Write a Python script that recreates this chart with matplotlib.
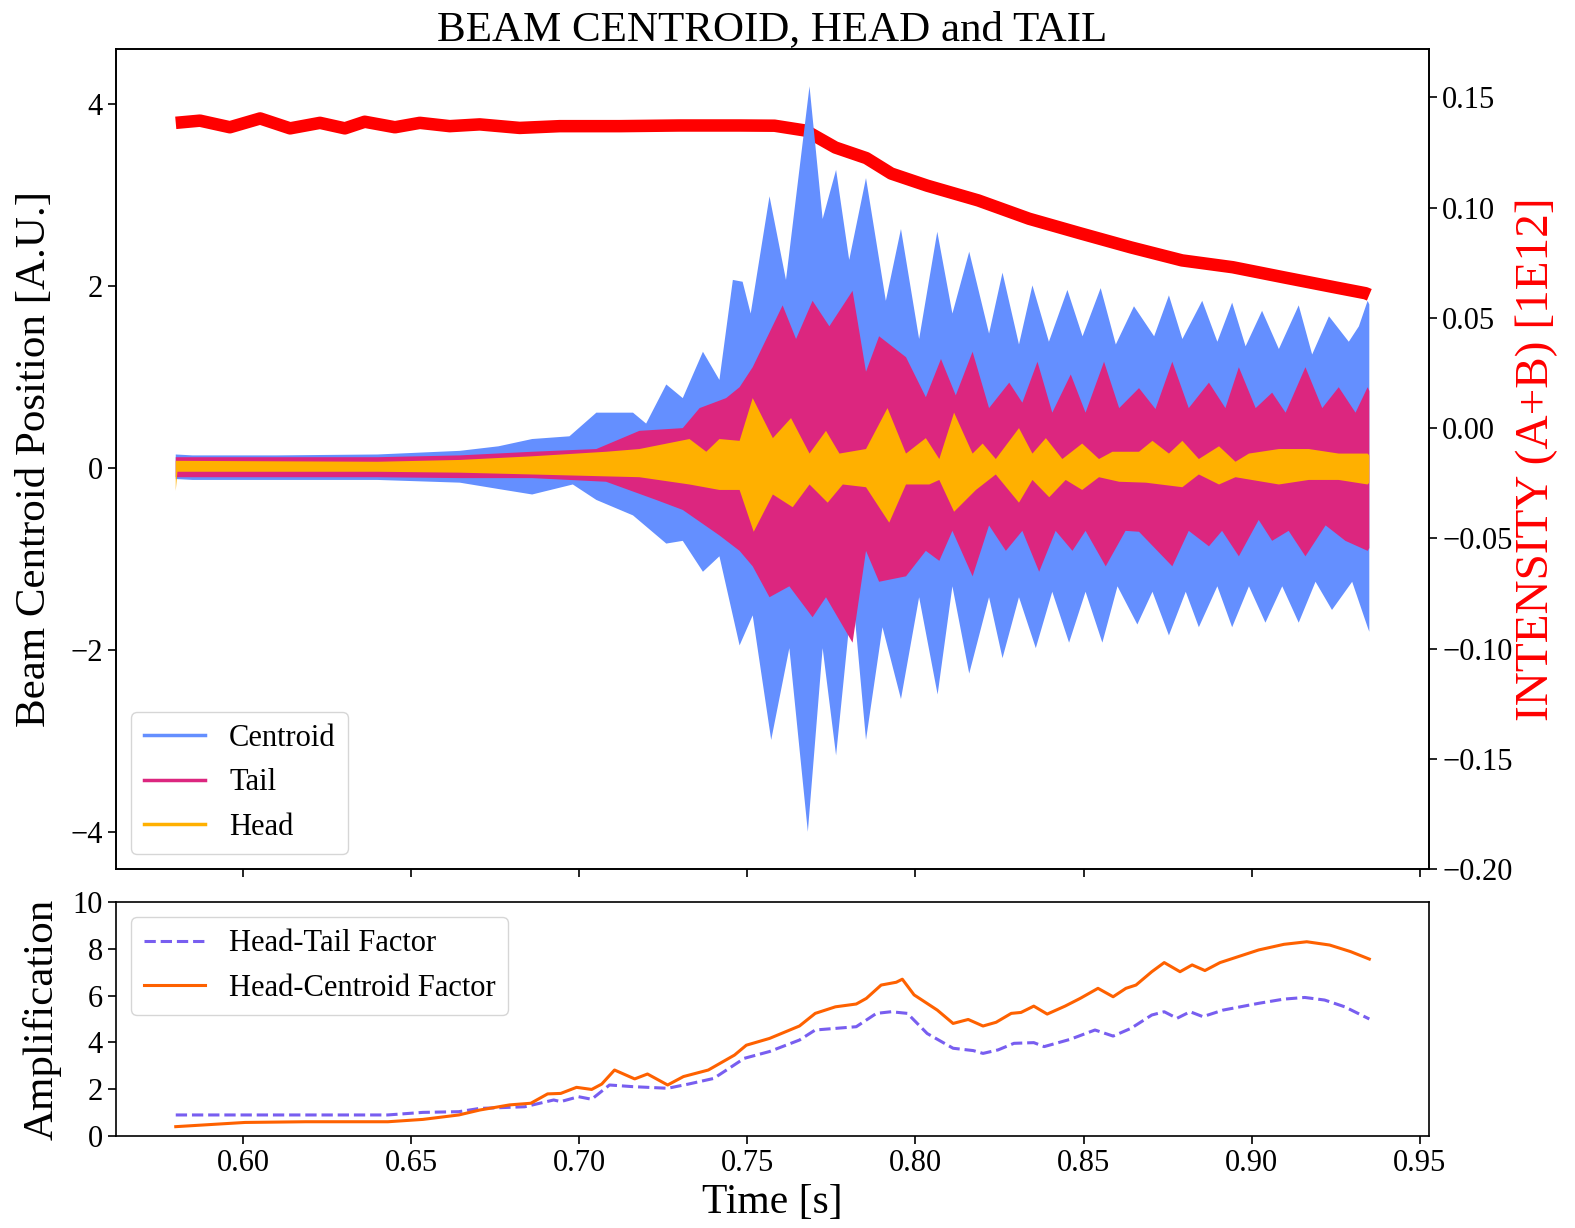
import matplotlib
matplotlib.use('Agg')
import matplotlib.pyplot as plt
import numpy as np
from matplotlib.lines import Line2D

plt.rcParams['font.family'] = ['Liberation Serif', 'DejaVu Serif']

# ---- envelope of the beam signals ----
centroid_up_t = [0.5800, 0.5850, 0.6100, 0.6400, 0.6645, 0.6760, 0.6860, 0.6971, 0.7051, 0.7160,
                 0.7199, 0.7259, 0.7308, 0.7368, 0.7417, 0.7457, 0.7486, 0.7510, 0.7566, 0.7615,
                 0.7685, 0.7724, 0.7764, 0.7803, 0.7853, 0.7912, 0.7957, 0.8011, 0.8065, 0.8110,
                 0.8160, 0.8219, 0.8259, 0.8308, 0.8348, 0.8397, 0.8452, 0.8497, 0.8551, 0.8596,
                 0.8650, 0.8710, 0.8754, 0.8794, 0.8853, 0.8898, 0.8942, 0.8982, 0.9031, 0.9081,
                 0.9140, 0.9180, 0.9230, 0.9289, 0.9319, 0.9345, 0.9350]
centroid_up = [0.15, 0.14, 0.14, 0.15, 0.19, 0.24, 0.32, 0.35, 0.61, 0.61,
               0.49, 0.92, 0.77, 1.28, 0.97, 2.07, 2.05, 1.70, 2.99, 2.07,
               4.20, 2.74, 3.28, 2.29, 3.19, 1.84, 2.63, 1.42, 2.60, 1.70,
               2.38, 1.48, 2.15, 1.36, 2.01, 1.39, 1.96, 1.45, 1.98, 1.36,
               1.78, 1.45, 1.90, 1.42, 1.84, 1.39, 1.82, 1.34, 1.73, 1.31,
               1.79, 1.25, 1.67, 1.39, 1.56, 1.84, 1.80]
centroid_lo_t = [0.5800, 0.5850, 0.6400, 0.6645, 0.6760, 0.6860, 0.6981, 0.7051, 0.7160, 0.7259,
                 0.7308, 0.7368, 0.7417, 0.7477, 0.7516, 0.7571, 0.7625, 0.7680, 0.7724, 0.7764,
                 0.7813, 0.7853, 0.7902, 0.7957, 0.8011, 0.8066, 0.8110, 0.8160, 0.8219, 0.8259,
                 0.8308, 0.8358, 0.8407, 0.8457, 0.8506, 0.8556, 0.8601, 0.8660, 0.8705, 0.8754,
                 0.8804, 0.8843, 0.8898, 0.8942, 0.8992, 0.9041, 0.9091, 0.9140, 0.9190, 0.9239,
                 0.9299, 0.9345, 0.9350]
centroid_lo = [-0.12, -0.13, -0.13, -0.16, -0.23, -0.29, -0.18, -0.35, -0.52, -0.83,
               -0.80, -1.14, -0.97, -1.95, -1.62, -2.99, -1.98, -4.00, -1.98, -3.16,
               -1.36, -2.99, -1.75, -2.54, -1.42, -2.49, -1.30, -2.26, -1.42, -2.09,
               -1.42, -1.98, -1.36, -1.92, -1.36, -1.92, -1.30, -1.72, -1.36, -1.84,
               -1.36, -1.75, -1.30, -1.75, -1.30, -1.70, -1.30, -1.70, -1.25, -1.56,
               -1.25, -1.75, -1.80]

tail_up_t = [0.5800, 0.6400, 0.6645, 0.6860, 0.7051, 0.7179, 0.7308, 0.7358, 0.7437, 0.7477,
             0.7516, 0.7605, 0.7645, 0.7694, 0.7744, 0.7813, 0.7853, 0.7892, 0.7972, 0.8031,
             0.8076, 0.8120, 0.8170, 0.8219, 0.8279, 0.8318, 0.8363, 0.8407, 0.8462, 0.8506,
             0.8561, 0.8606, 0.8665, 0.8714, 0.8764, 0.8813, 0.8873, 0.8922, 0.8962, 0.9012,
             0.9061, 0.9101, 0.9160, 0.9210, 0.9259, 0.9309, 0.9345, 0.9350]
tail_up = [0.12, 0.12, 0.14, 0.18, 0.21, 0.41, 0.44, 0.66, 0.77, 0.89,
           1.11, 1.79, 1.42, 1.84, 1.56, 1.95, 1.06, 1.45, 1.22, 0.78,
           1.20, 0.80, 1.28, 0.66, 0.94, 0.72, 1.17, 0.61, 1.03, 0.61,
           1.17, 0.66, 0.88, 0.65, 1.17, 0.66, 0.94, 0.66, 1.11, 0.66,
           0.83, 0.61, 1.11, 0.66, 0.89, 0.61, 0.89, 0.85]
tail_lo_t = [0.5800, 0.6400, 0.6645, 0.6860, 0.7080, 0.7229, 0.7308, 0.7417, 0.7477, 0.7516,
             0.7566, 0.7625, 0.7694, 0.7734, 0.7813, 0.7853, 0.7892, 0.7972, 0.8031, 0.8071,
             0.8110, 0.8170, 0.8219, 0.8269, 0.8318, 0.8368, 0.8417, 0.8467, 0.8506, 0.8566,
             0.8625, 0.8665, 0.8764, 0.8813, 0.8873, 0.8912, 0.8962, 0.9021, 0.9061, 0.9110,
             0.9160, 0.9220, 0.9279, 0.9345, 0.9350]
tail_lo = [-0.10, -0.10, -0.11, -0.11, -0.15, -0.35, -0.46, -0.74, -0.91, -1.08,
           -1.42, -1.30, -1.64, -1.42, -1.92, -0.91, -1.25, -1.19, -0.91, -1.02,
           -0.69, -1.19, -0.63, -0.91, -0.69, -1.14, -0.69, -0.91, -0.69, -1.08,
           -0.69, -0.70, -1.08, -0.69, -0.86, -0.69, -0.97, -0.57, -0.80, -0.69,
           -0.97, -0.63, -0.80, -0.91, -0.88]

head_up_t = [0.5800, 0.6400, 0.6645, 0.6860, 0.7080, 0.7179, 0.7328, 0.7378, 0.7417, 0.7477,
             0.7516, 0.7576, 0.7630, 0.7685, 0.7734, 0.7774, 0.7853, 0.7917, 0.7972, 0.8031,
             0.8071, 0.8115, 0.8170, 0.8200, 0.8239, 0.8308, 0.8348, 0.8388, 0.8437, 0.8496,
             0.8546, 0.8586, 0.8665, 0.8705, 0.8754, 0.8794, 0.8843, 0.8903, 0.8952, 0.8992,
             0.9081, 0.9170, 0.9259, 0.9345, 0.9350]
head_up = [0.08, 0.07, 0.09, 0.13, 0.18, 0.21, 0.32, 0.18, 0.32, 0.30,
           0.77, 0.33, 0.55, 0.16, 0.41, 0.16, 0.21, 0.66, 0.16, 0.33,
           0.10, 0.61, 0.16, 0.27, 0.10, 0.44, 0.16, 0.33, 0.10, 0.27,
           0.10, 0.18, 0.18, 0.30, 0.16, 0.30, 0.10, 0.24, 0.07, 0.16,
           0.21, 0.21, 0.16, 0.16, 0.14]
head_lo_t = [0.5800, 0.5805, 0.6400, 0.6645, 0.6860, 0.7179, 0.7328, 0.7417, 0.7477, 0.7519,
             0.7576, 0.7635, 0.7685, 0.7739, 0.7784, 0.7853, 0.7922, 0.7972, 0.8041, 0.8071,
             0.8115, 0.8180, 0.8239, 0.8308, 0.8348, 0.8398, 0.8447, 0.8496, 0.8546, 0.8606,
             0.8685, 0.8794, 0.8843, 0.8903, 0.8952, 0.9081, 0.9170, 0.9259, 0.9345, 0.9350]
head_lo = [-0.25, -0.04, -0.04, -0.05, -0.07, -0.10, -0.18, -0.24, -0.24, -0.70,
           -0.29, -0.43, -0.18, -0.38, -0.18, -0.21, -0.60, -0.18, -0.18, -0.13,
           -0.48, -0.24, -0.07, -0.38, -0.13, -0.32, -0.13, -0.24, -0.10, -0.15,
           -0.16, -0.21, -0.07, -0.18, -0.10, -0.18, -0.13, -0.13, -0.18, -0.16]

# ---- beam intensity (A+B) ----
intensity_t = [0.5800, 0.5872, 0.5961, 0.6051, 0.6140, 0.6229, 0.6303, 0.6362, 0.6452, 0.6526,
               0.6615, 0.6704, 0.6823, 0.6942, 0.7120, 0.7298, 0.7477, 0.7581, 0.7673, 0.7762,
               0.7854, 0.7928, 0.8035, 0.8187, 0.8338, 0.8490, 0.8641, 0.8793, 0.8944, 0.9096,
               0.9247, 0.9339, 0.9350]
intensity = [0.1385, 0.1395, 0.1365, 0.1405, 0.1360, 0.1385, 0.1360, 0.1390, 0.1365, 0.1385,
             0.1370, 0.1378, 0.1362, 0.1370, 0.1370, 0.1373, 0.1373, 0.1372, 0.1350, 0.1273,
             0.1225, 0.1155, 0.1100, 0.1033, 0.0950, 0.0884, 0.0820, 0.0761, 0.0730, 0.0684,
             0.0639, 0.0612, 0.0605]

# ---- amplification factors ----
ht_t = [0.5800, 0.6430, 0.6535, 0.6642, 0.6704, 0.6838, 0.6924, 0.6945, 0.6998, 0.7037,
        0.7090, 0.7159, 0.7263, 0.7325, 0.7400, 0.7491, 0.7566, 0.7655, 0.7702, 0.7824,
        0.7884, 0.7928, 0.7976, 0.8035, 0.8112, 0.8172, 0.8201, 0.8246, 0.8293, 0.8352,
        0.8383, 0.8460, 0.8534, 0.8588, 0.8641, 0.8703, 0.8740, 0.8778, 0.8817, 0.8855,
        0.8915, 0.9021, 0.9096, 0.9158, 0.9217, 0.9277, 0.9350]
head_tail = [0.90, 0.90, 1.01, 1.04, 1.18, 1.25, 1.54, 1.47, 1.68, 1.57,
             2.18, 2.11, 2.04, 2.22, 2.46, 3.32, 3.61, 4.10, 4.53, 4.67,
             5.24, 5.31, 5.24, 4.38, 3.75, 3.65, 3.53, 3.68, 3.96, 3.99,
             3.82, 4.13, 4.53, 4.27, 4.60, 5.17, 5.31, 5.03, 5.31, 5.10,
             5.38, 5.67, 5.85, 5.92, 5.81, 5.52, 5.00]
hc_t = [0.5800, 0.5914, 0.6006, 0.6187, 0.6431, 0.6535, 0.6642, 0.6704, 0.6793, 0.6856,
        0.6906, 0.6945, 0.6992, 0.7037, 0.7067, 0.7105, 0.7165, 0.7203, 0.7263, 0.7310,
        0.7384, 0.7462, 0.7497, 0.7566, 0.7655, 0.7702, 0.7762, 0.7824, 0.7854, 0.7898,
        0.7943, 0.7961, 0.7996, 0.8065, 0.8112, 0.8157, 0.8201, 0.8240, 0.8285, 0.8314,
        0.8352, 0.8392, 0.8445, 0.8490, 0.8543, 0.8588, 0.8626, 0.8656, 0.8703, 0.8740,
        0.8787, 0.8823, 0.8861, 0.8906, 0.9021, 0.9096, 0.9164, 0.9232, 0.9294, 0.9350]
head_centroid = [0.40, 0.50, 0.58, 0.61, 0.61, 0.71, 0.90, 1.11, 1.33, 1.40,
                 1.80, 1.82, 2.08, 1.99, 2.22, 2.82, 2.44, 2.65, 2.18, 2.54,
                 2.82, 3.46, 3.88, 4.17, 4.70, 5.24, 5.52, 5.64, 5.88, 6.45,
                 6.57, 6.70, 6.03, 5.38, 4.81, 4.98, 4.70, 4.86, 5.24, 5.28,
                 5.55, 5.21, 5.55, 5.88, 6.31, 5.95, 6.31, 6.45, 7.02, 7.41,
                 7.02, 7.31, 7.07, 7.41, 7.95, 8.19, 8.30, 8.16, 7.88, 7.56]

C_CENTROID = '#648FFF'
C_TAIL = '#DC267F'
C_HEAD = '#FFB000'
C_HT = '#785EF0'
C_HC = '#FE6100'


def envelope(ax, t_up, up, t_lo, lo, color):
    """Fill the region between an upper and a lower envelope"""
    xs = np.concatenate([t_up, t_lo[::-1]])
    ys = np.concatenate([up, lo[::-1]])
    ax.fill(xs, ys, color=color, lw=0)


fig = plt.figure(figsize=(15.75, 12.28), dpi=100)
ax = fig.add_axes([0.0737, 0.2923, 0.8336, 0.6678])
axb = fig.add_axes([0.0737, 0.0749, 0.8336, 0.1906], sharex=ax)
ax2 = ax.twinx()

envelope(ax, centroid_up_t, centroid_up, centroid_lo_t, centroid_lo, C_CENTROID)
envelope(ax, tail_up_t, tail_up, tail_lo_t, tail_lo, C_TAIL)
envelope(ax, head_up_t, head_up, head_lo_t, head_lo, C_HEAD)

ax2.plot(intensity_t, intensity, color='red', lw=9, solid_capstyle='butt')
ax2.set_ylim(-0.2, 0.172)

# beam signals above the intensity trace
ax.set_zorder(ax2.get_zorder() + 1)
ax.patch.set_visible(False)

ax.set_title('BEAM CENTROID, HEAD and TAIL', fontsize=31)
ax.set_ylabel('Beam Centroid Position [A.U.]', fontsize=31, labelpad=12)
ax2.set_ylabel('INTENSITY (A+B) [1E12]', fontsize=34, color='red', labelpad=2)
ax.set_yticks([-4, -2, 0, 2, 4])

handles = [Line2D([], [], color=C_CENTROID, lw=2.5, label='Centroid'),
           Line2D([], [], color=C_TAIL, lw=2.5, label='Tail'),
           Line2D([], [], color=C_HEAD, lw=2.5, label='Head')]
ax.legend(handles=handles, loc='lower left', fontsize=22)

axb.plot(ht_t, head_tail, color=C_HT, lw=2.2, ls='--', label='Head-Tail Factor')
axb.plot(hc_t, head_centroid, color=C_HC, lw=2.2, label='Head-Centroid Factor')
axb.set_ylim(0, 10)
axb.set_yticks([0, 2, 4, 6, 8, 10])
axb.set_xticks([0.60, 0.65, 0.70, 0.75, 0.80, 0.85, 0.90, 0.95])
axb.set_ylabel('Amplification', fontsize=31, labelpad=8)
axb.set_xlabel('Time [s]', fontsize=30)
axb.legend(loc='upper left', fontsize=22)

ax.tick_params(labelbottom=False)
for a in (ax, ax2, axb):
    a.tick_params(labelsize=22, length=6, width=1.2)
    for s in a.spines.values():
        s.set_linewidth(1.2)

fig.savefig('out.png', dpi=100)
